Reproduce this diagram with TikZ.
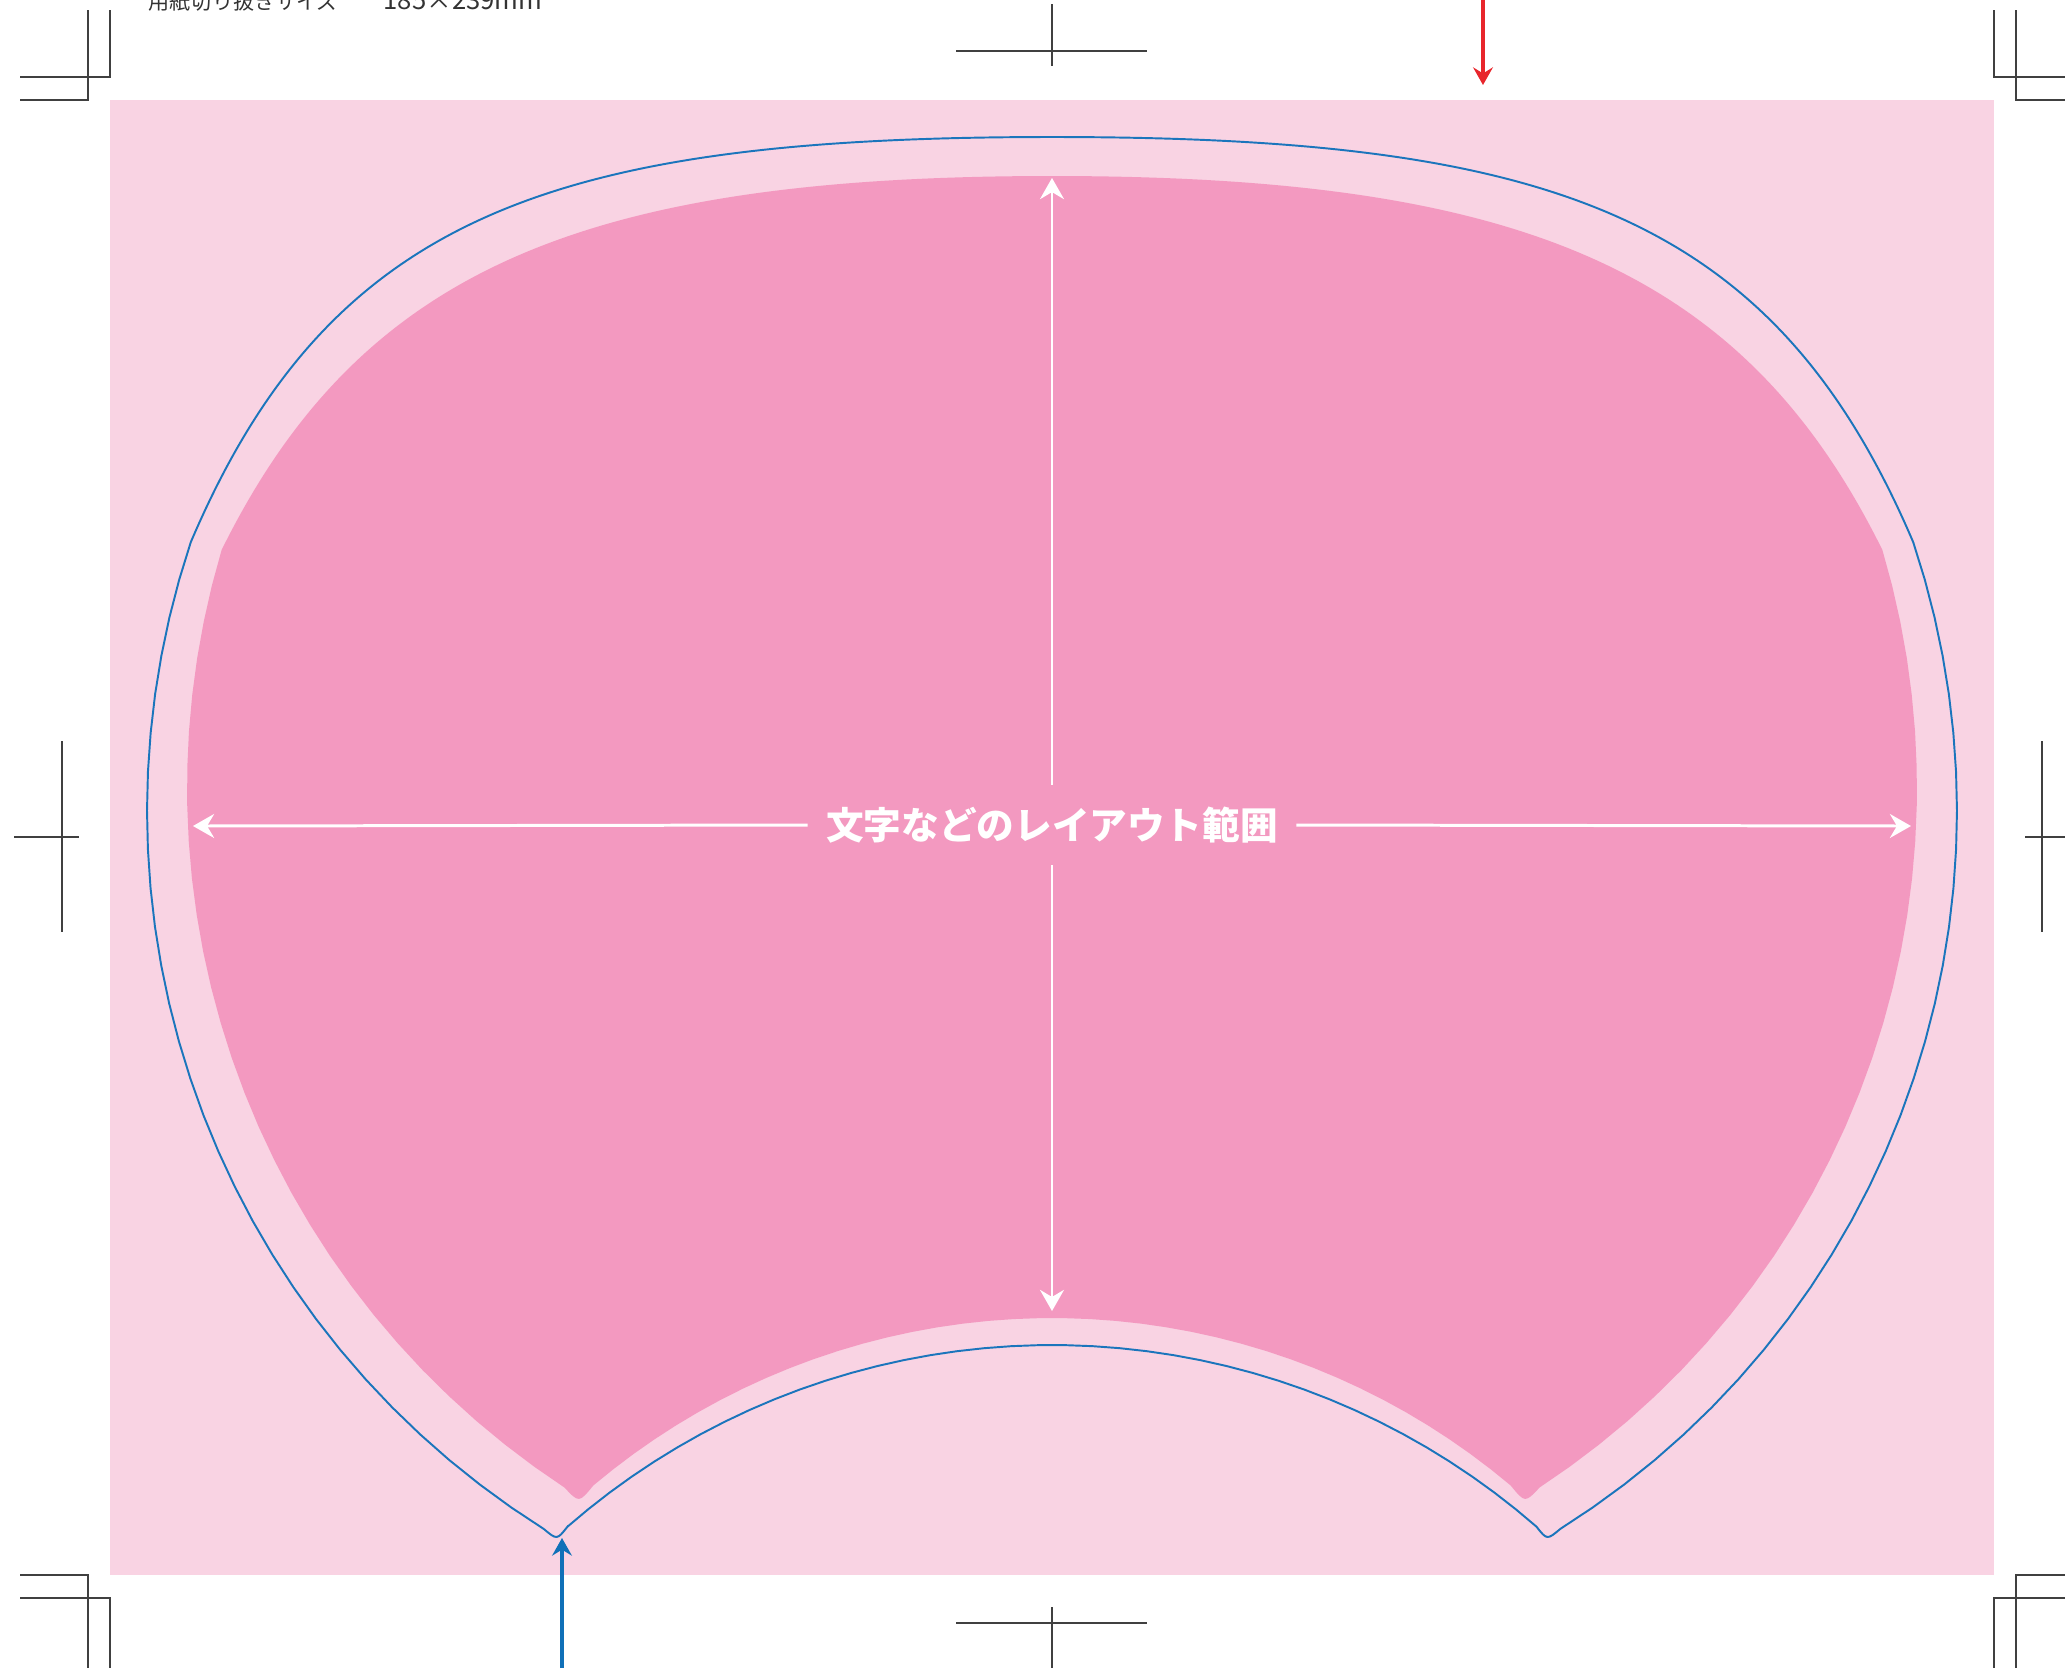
\documentclass[tikz,border=0pt]{standalone}
\usepackage{fontspec}
\newfontfamily\jpfont{Noto Sans CJK JP}
\usetikzlibrary{arrows.meta,positioning}
\definecolor{bleedpink}{HTML}{F9D3E3}
\definecolor{areapink}{HTML}{F399C0}
\definecolor{cutblue}{HTML}{1B75BC}
\definecolor{markred}{HTML}{E8262C}
\definecolor{markblue}{HTML}{1070B8}

\begin{document}
\begin{tikzpicture}[x=0.01cm,y=-0.01cm,
    trim/.style={draw=black!75,line width=0.4pt},
    dim/.style={draw=white,line width=0.85pt,-{Stealth[length=6pt,width=6.8pt,inset=2pt]}},
    pointer/.style={line width=0.9pt,-{Stealth[length=5pt,width=5.6pt,inset=1.7pt]}}]
    \useasboundingbox (0,0) rectangle (2065,1668);
    \fill[bleedpink] (110,100) rectangle (1994,1575);

    % crop marks, corners
    \draw[trim] (20,100) -- (88,100) -- (88,10);
    \draw[trim] (20,77) -- (110,77) -- (110,10);
    \draw[trim] (2084,100) -- (2016,100) -- (2016,10);
    \draw[trim] (2084,77) -- (1994,77) -- (1994,10);
    \draw[trim] (20,1575) -- (88,1575) -- (88,1668);
    \draw[trim] (20,1598) -- (110,1598) -- (110,1668);
    \draw[trim] (2084,1575) -- (2016,1575) -- (2016,1668);
    \draw[trim] (2084,1598) -- (1994,1598) -- (1994,1668);
    % crop marks, centres
    \draw[trim] (956,51) -- (1147,51) (1052,4) -- (1052,66);
    \draw[trim] (956,1623) -- (1147,1623) (1052,1607) -- (1052,1668);
    \draw[trim] (62,741) -- (62,932) (14,837) -- (79,837);
    \draw[trim] (2042,741) -- (2042,932) (2025,837) -- (2090,837);

    % layout area
    \fill[areapink] (1882.4,550) .. controls (1744,270) and (1522,176) .. (1052,176)
      .. controls (582,176) and (360,270) .. (221.6,550)
      -- plot[domain=196.52:123.3,samples=30] ({1024+837*cos(\x)},{788+837*sin(\x)})
      .. controls (579,1503) .. (593.4,1485.4)
      -- plot[domain=229.9:310.1,samples=40] ({1052+712*cos(\x)},{2030+712*sin(\x)})
      .. controls (1525,1503) .. (1539.5,1487.6)
      -- plot[domain=56.7:-16.52,samples=30] ({1080+837*cos(\x)},{788+837*sin(\x)})
      -- cycle;

    % cut line
    \draw[cutblue,line width=0.55pt] (1913.4,542.6) .. controls (1774,215) and (1552,137) .. (1052,137)
      .. controls (552,137) and (330,215) .. (190.6,542.6)
      -- plot[domain=198.45:122.15,samples=30] ({995+848*cos(\x)},{811+848*sin(\x)})
      .. controls (557,1540) .. (567.5,1526.6)
      -- plot[domain=228.9:311.1,samples=40] ({1052+737*cos(\x)},{2082+737*sin(\x)})
      .. controls (1547,1540) .. (1560.2,1529)
      -- plot[domain=57.85:-18.45,samples=30] ({1109+848*cos(\x)},{811+848*sin(\x)})
      -- cycle;

    \node[anchor=base west,inner sep=0,text=black!80,font=\jpfont\fontsize{6pt}{7pt}\selectfont] (sizetitle) at (148,9) {用紙切り抜きサイズ};
    \node[anchor=base west,inner sep=0,text=black!80,font=\jpfont\fontsize{7.3pt}{8pt}\selectfont] (sizevalue) at (383,9) {185×239mm};

    \node[text=white,inner xsep=0.18cm,inner ysep=0.215cm,font=\jpfont\bfseries\fontsize{10.7pt}{11pt}\selectfont] (layout) at (1052,825) {文字などのレイアウト範囲};
    \coordinate (topend) at (1052,178);
    \coordinate (botend) at (1052,1311);
    \coordinate (leftend) at (193,826);
    \coordinate (rightend) at (1911,826);
    \draw[dim] (layout.north) -- (topend);
    \draw[dim] (layout.south) -- (botend);
    \draw[dim] (layout.west) -- (leftend);
    \draw[dim] (layout.east) -- (rightend);

    \coordinate (redstart) at (1483,0);
    \coordinate (redtip) at (1483,85);
    \draw[pointer,markred] (redstart) -- (redtip);
    \coordinate (bluestart) at (562,1668);
    \coordinate (bluetip) at (562,1538);
    \draw[pointer,markblue] (bluestart) -- (bluetip);
\end{tikzpicture}
\end{document}
